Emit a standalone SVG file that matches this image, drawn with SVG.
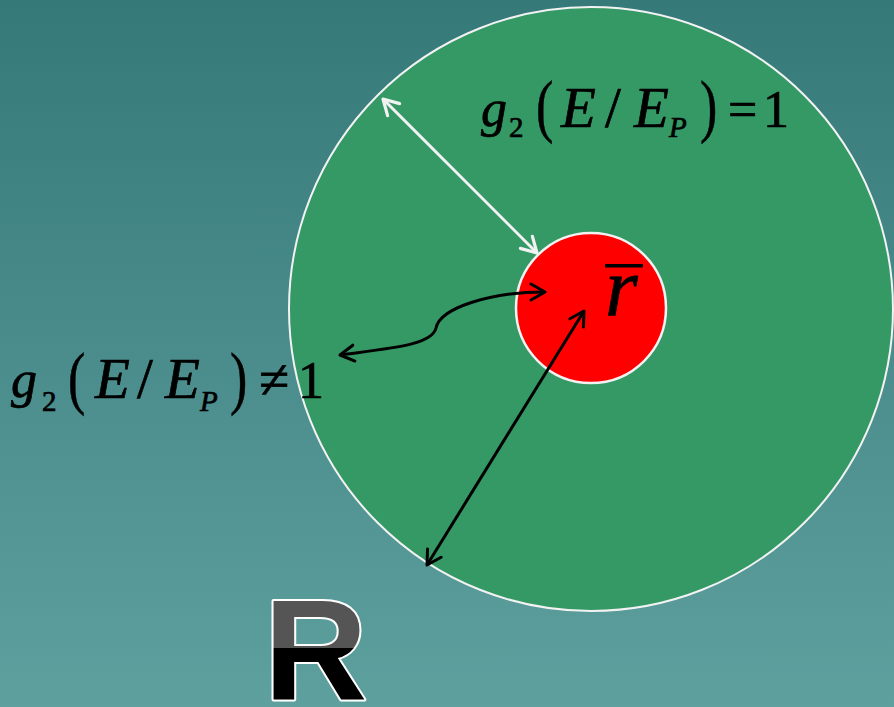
<svg xmlns="http://www.w3.org/2000/svg" width="894" height="707" viewBox="0 0 894 707">
  <defs>
    <linearGradient id="bg" x1="0" y1="0" x2="0" y2="1">
      <stop offset="0" stop-color="#367979"/>
      <stop offset="1" stop-color="#5da09e"/>
    </linearGradient>
    <linearGradient id="rgrad" gradientUnits="userSpaceOnUse" x1="0" y1="0" x2="0" y2="707">
      <stop offset="0" stop-color="#555555"/>
      <stop offset="0.916" stop-color="#555555"/>
      <stop offset="0.916" stop-color="#000000"/>
      <stop offset="1" stop-color="#000000"/>
    </linearGradient>
    <marker id="ah-w" viewBox="-17 -10 20 20" refX="0" refY="0" markerWidth="20" markerHeight="20" markerUnits="userSpaceOnUse" orient="auto-start-reverse">
      <path d="M-15,-8.5 L0,0 L-15,8.5" fill="none" stroke="#f2f2f2" stroke-width="3.2" stroke-linecap="round" stroke-linejoin="round"/>
    </marker>
    <marker id="ah-k" viewBox="-17 -10 20 20" refX="0" refY="0" markerWidth="20" markerHeight="20" markerUnits="userSpaceOnUse" orient="auto-start-reverse">
      <path d="M-14,-8 L0,0 L-14,8" fill="none" stroke="#000000" stroke-width="3" stroke-linecap="round" stroke-linejoin="round"/>
    </marker>
  </defs>
  <style>
    .m { font-family: "Liberation Serif", "Times New Roman", serif; fill: #000; stroke: #000; stroke-width: 0.7px; }
    .it { font-style: italic; }
    .big { font-size: 57px; }
    .sub { font-size: 29px; }
    .par { font-size: 52px; stroke-width: 0.4px; }
    .conn { fill: none; stroke-width: 3; }
  </style>

  <rect x="0" y="0" width="894" height="707" fill="url(#bg)"/>

  <g id="outer-circle">
    <circle cx="591" cy="309" r="302" fill="#359966" stroke="#f2f2f2" stroke-width="2"/>
  </g>
  <g id="inner-circle">
    <circle cx="591" cy="308" r="75" fill="#ff0000" stroke="#f2f2f2" stroke-width="2.5"/>
    <text class="m it" x="605" y="316" font-size="84" stroke-width="1.6">r</text>
    <rect x="605" y="264" width="38" height="3.5" fill="#000"/>
  </g>

  <g id="connectors">
    <line class="conn" x1="383" y1="99" x2="537" y2="253" stroke="#f2f2f2" marker-start="url(#ah-w)" marker-end="url(#ah-w)"/>
    <line class="conn" x1="427" y1="565" x2="584" y2="311" stroke="#000" marker-start="url(#ah-k)" marker-end="url(#ah-k)"/>
    <path class="conn" d="M340,355 C392,348 432,345 436,328 C440,308 490,292 545,292" stroke="#000" marker-start="url(#ah-k)" marker-end="url(#ah-k)"/>
  </g>

  <g id="label-top">
    <text class="m it" x="481" y="126" font-size="52">g</text>
    <text class="m" x="509" y="137" font-size="29">2</text>
    <text class="m par" transform="translate(536,129) scale(1,1.35)">(</text>
    <text class="m it big" x="561" y="127">E</text>
    <text class="m big" x="605" y="127">/</text>
    <text class="m it big" x="634" y="127">E</text>
    <text class="m it sub" x="669" y="137">P</text>
    <text class="m par" transform="translate(700,129) scale(1,1.35)">)</text>
    <text class="m" x="728" y="127" font-size="52">=</text>
    <text class="m" x="763" y="127" font-size="52">1</text>
  </g>

  <g id="label-left">
    <text class="m it" x="11" y="397" font-size="52">g</text>
    <text class="m" x="42" y="411" font-size="29">2</text>
    <text class="m par" transform="translate(68,401) scale(1,1.35)">(</text>
    <text class="m it big" x="95" y="398">E</text>
    <text class="m big" x="137" y="398">/</text>
    <text class="m it big" x="165" y="398">E</text>
    <text class="m it sub" x="200" y="411">P</text>
    <text class="m par" transform="translate(230,401) scale(1,1.35)">)</text>
    <text class="m" x="259" y="398" font-size="55">≠</text>
    <text class="m" x="298" y="398" font-size="52">1</text>
  </g>

  <g id="R-letter">
    <text x="264" y="699" font-family="Liberation Sans, Arial, sans-serif" font-weight="bold" font-size="143" fill="url(#rgrad)" stroke="#ffffff" stroke-width="4" stroke-linejoin="round" paint-order="stroke">R</text>
  </g>
</svg>
